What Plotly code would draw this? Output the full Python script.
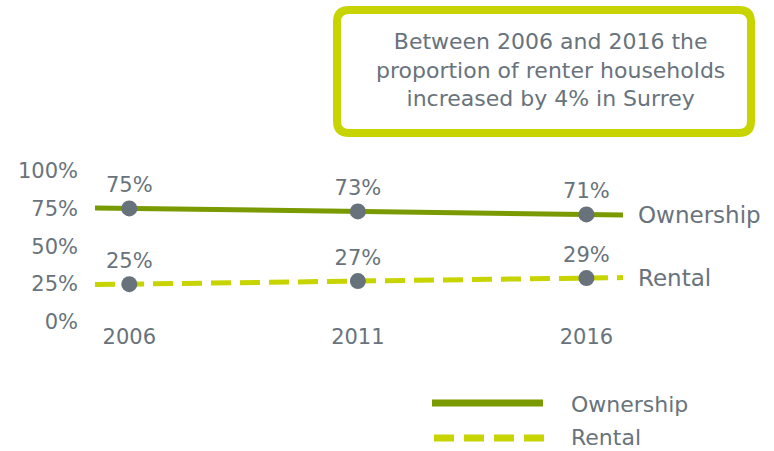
import numpy as np
import plotly.graph_objects as go

years = [2006, 2011, 2016]
ownership = [75, 73, 71]
rental = [25, 27, 29]
y_ticks = [0, 25, 50, 75, 100]
y_tick_labels = ["0%", "25%", "50%", "75%", "100%"]
note = "Between 2006 and 2016 the<br>proportion of renter households<br>increased by 4% in Surrey"

W, H = 774, 451
DARK = "#7a9a01"
LIGHT = "#c8d400"
GRAY = "#68737c"
MARK = "#68727a"
FONT = "DejaVu Sans"

def px(x):
    return x / W

def py(y):
    return 1 - y / H

x_range = [2005.25, 2016.8]

fig = go.Figure()
series = [("Ownership", ownership, DARK, "solid"), ("Rental", rental, LIGHT, "20px,9px")]
for name, vals, col, dash in series:
    coef = np.polyfit(years, vals, 1)
    xs = np.array(x_range)
    ys = np.polyval(coef, xs)
    fig.add_trace(go.Scatter(x=xs, y=ys, mode="lines", line=dict(color=col, width=5, dash=dash),
                             showlegend=False, hoverinfo="skip", cliponaxis=False))
    fig.add_trace(go.Scatter(x=years, y=vals, mode="markers+text",
                             marker=dict(color=MARK, size=16),
                             text=[f"{v}%" for v in vals], textposition="top center",
                             textfont=dict(family=FONT, size=21, color=GRAY),
                             showlegend=False, cliponaxis=False, name=name))
    fig.add_annotation(x=xs[-1], y=ys[-1], xref="x", yref="y", text=name, showarrow=False,
                       xanchor="left", yanchor="middle", xshift=13,
                       font=dict(family=FONT, size=23, color=GRAY))

# Note box (rounded rectangle)
x0, x1, y0, y1, r = 337, 751, 10, 133, 12
pts = [
    f"M {px(x0 + r)},{py(y0)}",
    f"L {px(x1 - r)},{py(y0)}",
    f"Q {px(x1)},{py(y0)} {px(x1)},{py(y0 + r)}",
    f"L {px(x1)},{py(y1 - r)}",
    f"Q {px(x1)},{py(y1)} {px(x1 - r)},{py(y1)}",
    f"L {px(x0 + r)},{py(y1)}",
    f"Q {px(x0)},{py(y1)} {px(x0)},{py(y1 - r)}",
    f"L {px(x0)},{py(y0 + r)}",
    f"Q {px(x0)},{py(y0)} {px(x0 + r)},{py(y0)} Z",
]
fig.add_shape(type="path", path=" ".join(pts), xref="paper", yref="paper",
              line=dict(color=LIGHT, width=8), fillcolor="white")
fig.add_annotation(x=px(550), y=py(70), xref="paper", yref="paper", text=note, showarrow=False,
                   xanchor="center", yanchor="middle", align="center",
                   font=dict(family=FONT, size=22, color=GRAY))

# Custom legend
fig.add_shape(type="line", xref="paper", yref="paper", x0=px(432), x1=px(543), y0=py(403), y1=py(403),
              line=dict(color=DARK, width=7))
fig.add_shape(type="line", xref="paper", yref="paper", x0=px(434), x1=px(545), y0=py(438), y1=py(438),
              line=dict(color=LIGHT, width=7, dash="20px,10px"))
for label, yy in [("Ownership", 404), ("Rental", 437)]:
    fig.add_annotation(x=px(569), y=py(yy), xref="paper", yref="paper", text=label, showarrow=False,
                       xanchor="left", yanchor="middle", font=dict(family=FONT, size=22, color=GRAY))

fig.update_layout(
    template="none",
    width=W, height=H, margin=dict(l=0, r=0, t=0, b=0, pad=0, autoexpand=False),
    paper_bgcolor="white", plot_bgcolor="white",
    showlegend=False,
    xaxis=dict(range=x_range, domain=[px(95), px(623)], tickvals=years, ticktext=[str(y) for y in years],
               showgrid=False, zeroline=False, showline=False, ticks="", automargin=False,
               tickfont=dict(family=FONT, size=21, color=GRAY)),
    yaxis=dict(range=[0, 100], domain=[py(322), py(170.5)], tickvals=y_ticks, ticktext=y_tick_labels,
               showgrid=False, zeroline=False, showline=False, ticks="", ticklabelstandoff=16,
               automargin=False, tickfont=dict(family=FONT, size=21, color=GRAY)),
)

fig.write_html("out.html", config={"displayModeBar": False},
               post_script="document.body.style.margin='0';document.body.style.overflow='hidden';")
